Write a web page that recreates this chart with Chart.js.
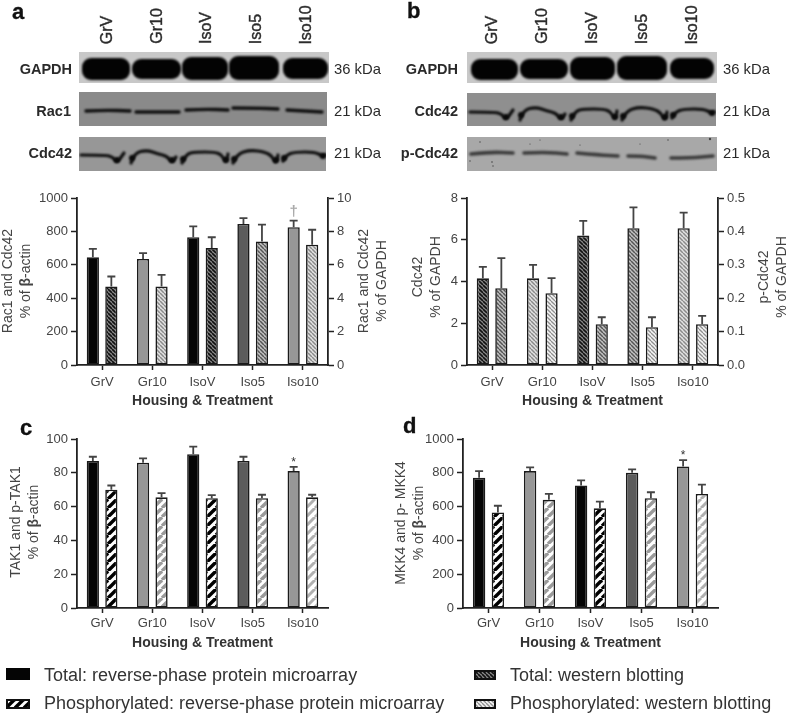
<!DOCTYPE html>
<html>
<head>
<meta charset="utf-8">
<script src="https://cdn.jsdelivr.net/npm/chart.js@4"></script>
<style>
  html, body { margin: 0; padding: 0; background: #fff; }
  #page { position: relative; width: 787px; height: 716px; overflow: hidden; font-family: "Liberation Sans", Arial, sans-serif; color: #2a2a2a; filter: blur(0.5px); }
  #page canvas { position: absolute; }
  .t { position: absolute; white-space: nowrap; }
  .letter { font-weight: bold; font-size: 22px; color: #111; line-height: 1; -webkit-text-stroke: 0.3px #111; }
  .lane { font-size: 16px; -webkit-text-stroke: 0.4px #333; transform: translate(-50%, 0) rotate(-90deg); transform-origin: 50% 50%; line-height: 16px; }
  .prot { font-size: 14.5px; font-weight: bold; line-height: 16px; text-align: right; transform: translate(-100%, -50%); }
  .kda { font-size: 14.8px; line-height: 16px; transform: translateY(-50%); }
  .ytitle { font-size: 14px; line-height: 18px; text-align: center; color: #444; transform: translate(-50%, -50%) rotate(-90deg); }
  .legend { font-size: 18px; line-height: 20px; transform: translateY(-50%); color: #333; }
</style>
</head>
<body>
<div id="page"></div>
<script>
const categories = ["GrV", "Gr10", "IsoV", "Iso5", "Iso10"];

// panel a
const aTotal = [645, 635, 765, 845, 825];
const aTotalTop = [695, 670, 830, 880, 865];
const aWestern = [4.7, 4.7, 7.0, 7.4, 7.2];
const aWesternTop = [5.3, 5.4, 7.65, 8.4, 8.1];
// panel b
const bTotal = [4.15, 4.15, 6.2, 6.55, 6.55];
const bTotalTop = [4.7, 4.8, 6.9, 7.55, 7.3];
const bPhospho = [0.23, 0.215, 0.122, 0.113, 0.122];
const bPhosphoTop = [0.32, 0.26, 0.143, 0.143, 0.147];
// panel c
const cTotal = [87, 86, 91, 87, 81];
const cTotalTop = [89.5, 88.5, 95.5, 89.5, 83.5];
const cPhospho = [70, 65.5, 65, 65, 65.5];
const cPhosphoTop = [72.5, 68, 66.8, 67, 67];
// panel d
const dTotal = [770, 810, 725, 800, 838];
const dTotalTop = [810, 832, 755, 820, 875];
const dPhospho = [565, 640, 590, 650, 675];
const dPhosphoTop = [605, 675, 630, 685, 730];

const page = document.getElementById("page");

function addText(cls, html, left, top) {
  const el = document.createElement("div");
  el.className = "t " + cls;
  el.innerHTML = html;
  el.style.left = left + "px";
  el.style.top = top + "px";
  page.appendChild(el);
}

function addCanvas(left, top, w, h) {
  const c = document.createElement("canvas");
  c.width = w;
  c.height = h;
  c.style.left = left + "px";
  c.style.top = top + "px";
  c.style.width = w + "px";
  c.style.height = h + "px";
  page.appendChild(c);
  return c;
}

// diagonal hatch tile, dir 1 = "/" and -1 = "\"
function hatch(bg, fg, size, lineW, dir) {
  const t = document.createElement("canvas");
  t.width = size;
  t.height = size;
  const g = t.getContext("2d");
  g.fillStyle = bg;
  g.fillRect(0, 0, size, size);
  g.strokeStyle = fg;
  g.lineWidth = lineW;
  for (let k = -1; k <= 1; k++) {
    g.beginPath();
    if (dir > 0) {
      g.moveTo(k * size, size);
      g.lineTo(k * size + size, 0);
    } else {
      g.moveTo(k * size, 0);
      g.lineTo(k * size + size, size);
    }
    g.stroke();
  }
  return g.createPattern(t, "repeat");
}

const BLACK = "#050505";
const GREY = "#979797";
const DARK = "#5c5c5c";

const wbDark = hatch("#8a8a8a", "#111", 4, 1.6, -1);
const wbMid = hatch("#c2c2c2", "#555", 4, 1.5, -1);
const wbLight = hatch("#e2e2e2", "#8a8a8a", 4, 1.5, -1);
const wbPale = hatch("#f5f5f5", "#8f8f8f", 4, 1.3, -1);

const rpBlack = hatch("#fff", "#000", 9, 3.4, 1);
const rpGrey = hatch("#fff", "#9a9a9a", 9, 3.4, 1);
const rpPale = hatch("#fff", "#b0b0b0", 9, 3.0, 1);

const totalColors = [BLACK, GREY, BLACK, DARK, GREY];

// error bars and significance marks, read from each dataset
const errorBars = {
  id: "errorBars",
  afterDatasetsDraw(chart) {
    const ctx = chart.ctx;
    chart.data.datasets.forEach((ds, n) => {
      const meta = chart.getDatasetMeta(n);
      const scale = chart.scales[ds.yAxisID];
      meta.data.forEach((bar, i) => {
        const yTop = scale.getPixelForValue(ds.errTop[i]);
        ctx.save();
        ctx.strokeStyle = "#444";
        ctx.lineWidth = 1.8;
        ctx.beginPath();
        ctx.moveTo(bar.x, bar.y);
        ctx.lineTo(bar.x, yTop);
        ctx.moveTo(bar.x - 4, yTop);
        ctx.lineTo(bar.x + 4, yTop);
        ctx.stroke();
        if (ds.marks && ds.marks[i]) {
          ctx.fillStyle = ds.markColor || "#333";
          ctx.font = ds.markFont || "12px 'Liberation Sans'";
          ctx.textAlign = "center";
          ctx.textBaseline = "bottom";
          ctx.fillText(ds.marks[i], bar.x, yTop - (ds.markGap || 0));
        }
        ctx.restore();
      });
    });
  }
};

function makeBars(canvas, cfg) {
  const axisColor = "#222";
  const tickFont = { family: "'Liberation Sans'", size: 13 };
  const yAxis = (position, width, max, step, fmt) => ({
    type: "linear",
    position,
    min: 0,
    max,
    afterFit(s) {
      s.width = width;
      s.paddingTop = 0;
      s.paddingBottom = 0;
    },
    border: { color: axisColor, width: 1.8 },
    grid: { drawOnChartArea: false, drawTicks: true, tickLength: 6, tickColor: axisColor, tickWidth: 1.5 },
    ticks: { stepSize: step, padding: 3, color: "#444", font: tickFont, callback: fmt || ((v) => v) }
  });
  const scales = {
    x: {
      type: "category",
      afterFit(s) {
        s.height = 45;
        s.paddingLeft = 0;
        s.paddingRight = 0;
      },
      border: { color: axisColor, width: 1.8 },
      grid: { offset: false, drawOnChartArea: false, tickLength: 5, tickColor: axisColor, tickWidth: 1.5 },
      ticks: { padding: cfg.xPad, color: "#444", font: tickFont, maxRotation: 0 },
      title: {
        display: true,
        text: "Housing & Treatment",
        color: "#333",
        font: { family: "'Liberation Sans'", size: 14, weight: "bold" },
        padding: { top: 0, bottom: cfg.titlePad }
      }
    },
    y: yAxis("left", cfg.leftW, cfg.leftMax, cfg.leftStep)
  };
  if (cfg.rightMax) {
    scales.y2 = yAxis("right", cfg.rightW, cfg.rightMax, cfg.rightStep, cfg.rightFmt);
  }
  return new Chart(canvas, {
    type: "bar",
    data: { labels: categories, datasets: cfg.datasets },
    options: {
      responsive: false,
      animation: false,
      layout: { padding: { top: cfg.padTop, right: cfg.rightMax ? 0 : cfg.rightW, left: 0, bottom: 0 } },
      plugins: { legend: { display: false }, tooltip: { enabled: false } },
      scales
    },
    plugins: [errorBars]
  });
}

function barSet(data, errTop, yAxisID, backgroundColor, extra) {
  return Object.assign({
    data,
    errTop,
    yAxisID,
    backgroundColor,
    borderColor: "#1a1a1a",
    borderWidth: 1.6,
    borderSkipped: false,
    categoryPercentage: 0.737,
    barPercentage: 0.66
  }, extra || {});
}

makeBars(addCanvas(0, 185, 395, 225), {
  leftW: 77, rightW: 67, padTop: 13, xPad: 5, titlePad: 0,
  leftMax: 1000, leftStep: 200, rightMax: 10, rightStep: 2,
  datasets: [
    barSet(aTotal, aTotalTop, "y", totalColors, { marks: ["", "", "", "", "†"], markColor: "#aaa", markFont: "bold 15px 'Liberation Sans'", markGap: 1 }),
    barSet(aWestern, aWesternTop, "y2", [wbDark, wbLight, wbDark, wbMid, wbLight])
  ]
});

makeBars(addCanvas(395, 185, 392, 225), {
  leftW: 72, rightW: 69, padTop: 13, xPad: 5, titlePad: 0,
  leftMax: 8, leftStep: 2, rightMax: 0.5, rightStep: 0.1, rightFmt: (v) => v.toFixed(1),
  datasets: [
    barSet(bTotal, bTotalTop, "y", [wbDark, wbLight, wbDark, wbMid, wbLight]),
    barSet(bPhospho, bPhosphoTop, "y2", [wbMid, wbPale, wbMid, wbPale, wbPale])
  ]
});

makeBars(addCanvas(0, 427, 395, 226), {
  leftW: 77, rightW: 67, padTop: 12, xPad: 3, titlePad: 1,
  leftMax: 100, leftStep: 20,
  datasets: [
    barSet(cTotal, cTotalTop, "y", totalColors, { marks: ["", "", "", "", "*"], markColor: "#333", markGap: -2 }),
    barSet(cPhospho, cPhosphoTop, "y", [rpBlack, rpGrey, rpBlack, rpGrey, rpPale])
  ]
});

makeBars(addCanvas(395, 427, 392, 226), {
  leftW: 68, rightW: 69, padTop: 12, xPad: 3, titlePad: 1,
  leftMax: 1000, leftStep: 200,
  datasets: [
    barSet(dTotal, dTotalTop, "y", totalColors, { marks: ["", "", "", "", "*"], markColor: "#333", markGap: -2 }),
    barSet(dPhospho, dPhosphoTop, "y", [rpBlack, rpGrey, rpBlack, rpGrey, rpPale])
  ]
});

// panel letters
addText("letter", "a", 12, 1);
addText("letter", "b", 407, 0);
addText("letter", "c", 20, 417);
addText("letter", "d", 403, 415);

// y axis titles, all of them read bottom to top
const beta = "<b>β</b>";
addText("ytitle", "Rac1 and Cdc42<br>% of " + beta + "-actin", 16, 281);
addText("ytitle", "Rac1 and Cdc42<br>% of GAPDH", 372, 281);
addText("ytitle", "Cdc42<br>% of GAPDH", 426, 277);
addText("ytitle", "p-Cdc42<br>% of GAPDH", 772, 277);
addText("ytitle", "TAK1 and p-TAK1<br>% of " + beta + "-actin", 24, 522);
addText("ytitle", "MKK4 and p- MKK4<br>% of " + beta + "-actin", 409, 523);

// lane labels over the blots
const laneA = [107, 157, 206, 256, 306];
const laneB = [492, 542, 592, 642, 692];
categories.forEach((c, i) => {
  addText("lane", c, laneA[i], 0);
  addText("lane", c, laneB[i], 0);
});
document.querySelectorAll(".lane").forEach((el) => {
  // rotate about the centre, then drop so the text ends at y=44
  const half = el.offsetWidth / 2;
  el.style.top = (44 - half - 8) + "px";
});

// protein names and sizes
addText("prot", "GAPDH", 72, 69);
addText("prot", "Rac1", 71, 111);
addText("prot", "Cdc42", 72, 153);
addText("kda", "36 kDa", 334, 69);
addText("kda", "21 kDa", 334, 111);
addText("kda", "21 kDa", 334, 153);
addText("prot", "GAPDH", 458, 69);
addText("prot", "Cdc42", 458, 111);
addText("prot", "p-Cdc42", 458, 153);
addText("kda", "36 kDa", 723, 69);
addText("kda", "21 kDa", 723, 111);
addText("kda", "21 kDa", 723, 153);

// blot strips, a picture rather than data
function strip(x, y, w, h, bg, draw) {
  const c = addCanvas(x, y, w, h);
  const g = c.getContext("2d");
  g.fillStyle = bg;
  g.fillRect(0, 0, w, h);
  g.translate(-x, -y);
  draw(g);
}

function gapdh(g, spans) {
  g.filter = "blur(1.2px)";
  g.fillStyle = "#030303";
  spans.forEach(([x0, x1, y0, y1]) => {
    g.beginPath();
    g.roundRect(x0, y0, x1 - x0, y1 - y0, 9);
    g.fill();
  });
  g.filter = "none";
}

function bands(g, lines, dx, dy, color, width, blur) {
  g.filter = "blur(" + blur + "px)";
  g.strokeStyle = color;
  g.lineWidth = width;
  g.lineCap = "round";
  g.lineJoin = "round";
  lines.forEach((pts) => {
    g.beginPath();
    g.moveTo(pts[0][0] + dx, pts[0][1] + dy);
    for (let i = 1; i < pts.length - 1; i++) {
      const mx = (pts[i][0] + pts[i + 1][0]) / 2;
      const my = (pts[i][1] + pts[i + 1][1]) / 2;
      g.quadraticCurveTo(pts[i][0] + dx, pts[i][1] + dy, mx + dx, my + dy);
    }
    const end = pts[pts.length - 1];
    g.lineTo(end[0] + dx, end[1] + dy);
    g.stroke();
  });
  g.filter = "none";
}

function blobs(g, pts, dx, dy) {
  g.filter = "blur(0.8px)";
  g.fillStyle = "#0a0a0a";
  pts.forEach(([x, y]) => {
    g.beginPath();
    g.arc(x + dx, y + dy, 3, 0, Math.PI * 2);
    g.fill();
  });
  g.filter = "none";
}

const cdcLines = [
  [[81, 155], [105, 155], [113, 157], [117, 163], [124, 153]],
  [[131, 163], [134, 153], [147, 150], [158, 154], [167, 156], [172, 163], [176, 157]],
  [[182, 163], [186, 154], [195, 152], [215, 152], [222, 155], [226, 163], [228, 154]],
  [[233, 163], [237, 154], [250, 150], [265, 152], [272, 156], [276, 164], [278, 155]],
  [[283, 161], [286, 155], [295, 152], [315, 152], [322, 156], [325, 155]]
];
const cdcDips = [[117, 160], [132, 158], [172, 160], [183, 159], [226, 160], [234, 159], [276, 160], [284, 158], [323, 156]];
const rac1Lines = [
  [[86, 111], [105, 110], [130, 111]],
  [[136, 112], [155, 112], [179, 112]],
  [[186, 110], [205, 109], [228, 110]],
  [[233, 108], [255, 108], [278, 109]],
  [[287, 110], [305, 111], [322, 112]]
];
const phosLines = [
  [[471, 154], [490, 152], [513, 153]],
  [[524, 153], [545, 152], [567, 154]],
  [[577, 153], [600, 155], [618, 156]],
  [[628, 156], [640, 156], [655, 158]],
  [[671, 158], [690, 158], [713, 156]]
];
const specks = [[480, 142, 0.7], [492, 162, 0.8], [493, 166, 0.7], [470, 161, 0.7], [530, 144, 0.6], [640, 144, 0.6], [668, 140, 0.7], [710, 139, 1.2], [540, 140, 0.6], [580, 145, 0.6]];

strip(79, 52, 250, 31, "#c8c8c8", (g) => gapdh(g, [[82, 130, 58, 80], [132, 181, 59, 79], [182, 228, 57, 80], [229, 279, 56, 80], [283, 328, 58, 79]]));
strip(79, 92, 248, 34, "#8a8a8a", (g) => bands(g, rac1Lines, 0, 0, "#0e0e0e", 3.4, 0.9));
strip(79, 137, 247, 34, "#979797", (g) => {
  bands(g, cdcLines, 0, 0, "#0c0c0c", 3.2, 0.8);
  blobs(g, cdcDips, 0, 0);
});
strip(467, 52, 250, 31, "#c8c8c8", (g) => gapdh(g, [[471, 518, 59, 80], [520, 568, 59, 79], [570, 615, 57, 80], [617, 667, 56, 80], [670, 714, 58, 79]]));
strip(467, 93, 249, 33, "#8f8f8f", (g) => {
  bands(g, cdcLines, 389, -43, "#0c0c0c", 3.2, 0.8);
  blobs(g, cdcDips, 389, -43);
});
strip(467, 137, 250, 34, "#a8a8a8", (g) => {
  bands(g, phosLines, 0, 0, "#3a3a3a", 3.6, 1.1);
  g.fillStyle = "#444";
  specks.forEach(([x, y, r]) => {
    g.beginPath();
    g.arc(x, y, r, 0, Math.PI * 2);
    g.fill();
  });
});

// legend swatches and labels
strip(6, 668, 24, 12, BLACK, () => {});
function swatch(x, y, w, h, fill) {
  const c = addCanvas(x, y, w, h);
  const g = c.getContext("2d");
  g.fillStyle = fill;
  g.fillRect(0, 0, w, h);
  g.strokeStyle = "#111";
  g.lineWidth = 2;
  g.strokeRect(1, 1, w - 2, h - 2);
}
swatch(6, 699, 24, 10, rpBlack);
swatch(474, 670, 22, 10, wbDark);
swatch(474, 699, 22, 10, wbPale);
addText("legend", "Total: reverse-phase protein microarray", 44, 675);
addText("legend", "Phosphorylated: reverse-phase protein microarray", 44, 703);
addText("legend", "Total: western blotting", 510, 675);
addText("legend", "Phosphorylated: western blotting", 510, 703);
</script>
</body>
</html>
